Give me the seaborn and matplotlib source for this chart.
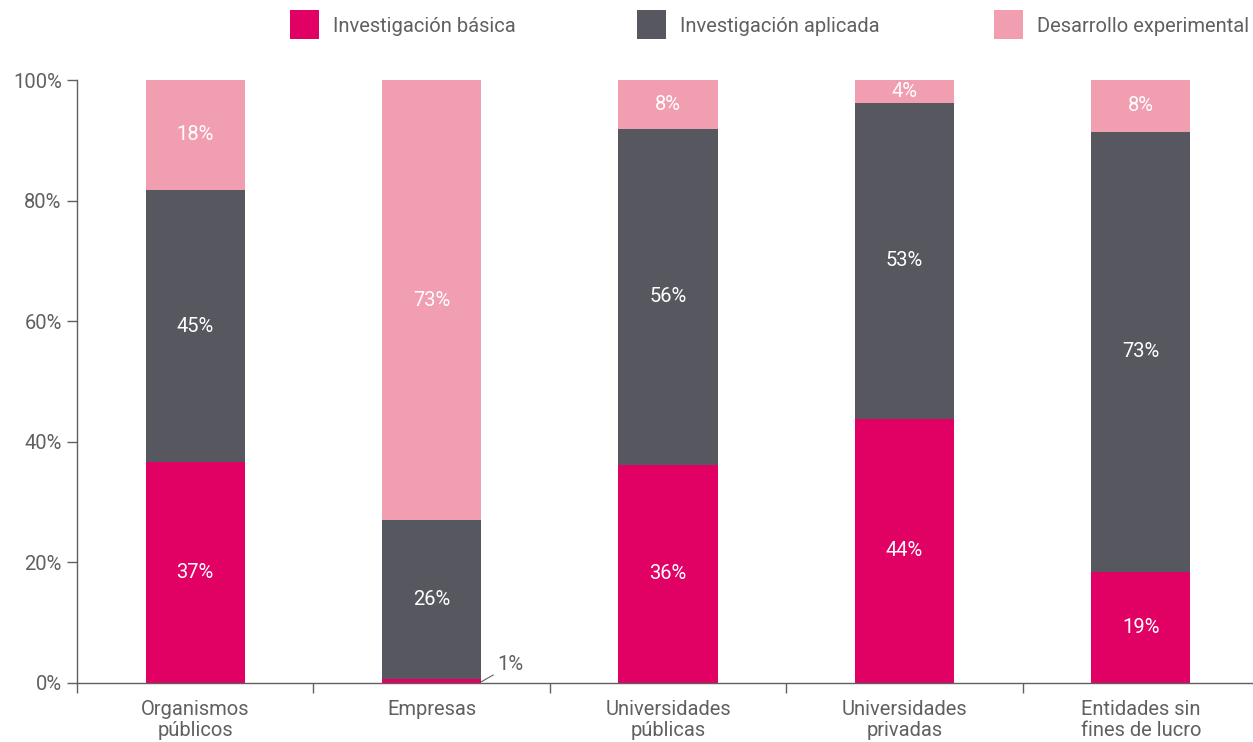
import numpy as np
import matplotlib
matplotlib.use("Agg")
import matplotlib.pyplot as plt
import seaborn as sns
from matplotlib.patches import Rectangle
from matplotlib.ticker import FixedLocator

# Data
categories = ["Organismos\npúblicos", "Empresas", "Universidades\npúblicas",
              "Universidades\nprivadas", "Entidades sin\nfines de lucro"]
basica = [36.6, 0.6, 36.2, 43.8, 18.4]
aplicada = [45.2, 26.4, 55.7, 52.4, 73.0]
experimental = [18.2, 73.0, 8.1, 3.8, 8.6]
labels_basica = ["37%", "1%", "36%", "44%", "19%"]
labels_aplicada = ["45%", "26%", "56%", "53%", "73%"]
labels_experimental = ["18%", "73%", "8%", "4%", "8%"]
series_names = ["Investigación básica", "Investigación aplicada", "Desarrollo experimental"]

colors = ["#E10064", "#575760", "#F19EB1"]
gray = "#606060"
fs = 14.5

sns.set_style("white")
plt.rcParams["font.family"] = ["Roboto", "DejaVu Sans"]

W, H = 1253, 742
fig = plt.figure(figsize=(W / 100, H / 100), dpi=100)
ax = fig.add_axes([77 / W, 59 / H, 1182 / W, 603 / H])

b = np.array(basica)
a = np.array(aplicada)
e = np.array(experimental)

# stacked by overlaying cumulative bars
for vals, c in [(b + a + e, colors[2]), (b + a, colors[1]), (b, colors[0])]:
    sns.barplot(x=categories, y=vals, color=c, width=0.42, ax=ax,
                saturation=1, linewidth=0, edgecolor="none")

for i in range(len(categories)):
    if b[i] > 3:
        ax.text(i, b[i] / 2, labels_basica[i], ha="center", va="center", color="white", fontsize=fs)
    ax.text(i, b[i] + a[i] / 2, labels_aplicada[i], ha="center", va="center", color="white", fontsize=fs)
    ax.text(i, b[i] + a[i] + e[i] / 2, labels_experimental[i], ha="center", va="center",
            color="white", fontsize=fs)

# small value annotation for Empresas
ax.annotate(labels_basica[1], xy=(1 + 0.21, 0.2), xytext=(1 + 0.28, 3.0),
            ha="left", va="center", color=gray, fontsize=fs,
            arrowprops=dict(arrowstyle="-", color=gray, lw=0.8, shrinkA=1, shrinkB=0))

ax.set_xlim(-0.5, 4.5)
ax.set_ylim(0, 100)
ax.set_yticks([0, 20, 40, 60, 80, 100])
ax.set_yticklabels(["0%", "20%", "40%", "60%", "80%", "100%"])
ax.xaxis.set_minor_locator(FixedLocator([-0.5, 0.5, 1.5, 2.5, 3.5]))
ax.tick_params(axis="x", which="major", length=0, pad=12, labelsize=fs, labelcolor=gray)
ax.tick_params(axis="x", which="minor", length=7, width=1, color=gray, direction="out", bottom=True)
ax.tick_params(axis="y", length=7, width=1, color=gray, direction="out", left=True,
               labelsize=fs, labelcolor=gray, pad=4)
for lbl in ax.get_xticklabels():
    lbl.set_linespacing(1.15)

sns.despine(ax=ax, top=True, right=True)
for side in ["left", "bottom"]:
    ax.spines[side].set_color(gray)
    ax.spines[side].set_linewidth(1)
ax.set_xlabel("")
ax.set_ylabel("")

# legend drawn in figure pixels
for x0, c, name in zip([290, 637, 994], colors, series_names):
    fig.add_artist(Rectangle((x0 / W, 1 - 39 / H), 29 / W, 29 / H, facecolor=c,
                             edgecolor="none", transform=fig.transFigure))
    fig.text((x0 + 43) / W, 1 - 27 / H, name, ha="left", va="center", color=gray, fontsize=fs)

fig.savefig("out.png", dpi=100)
